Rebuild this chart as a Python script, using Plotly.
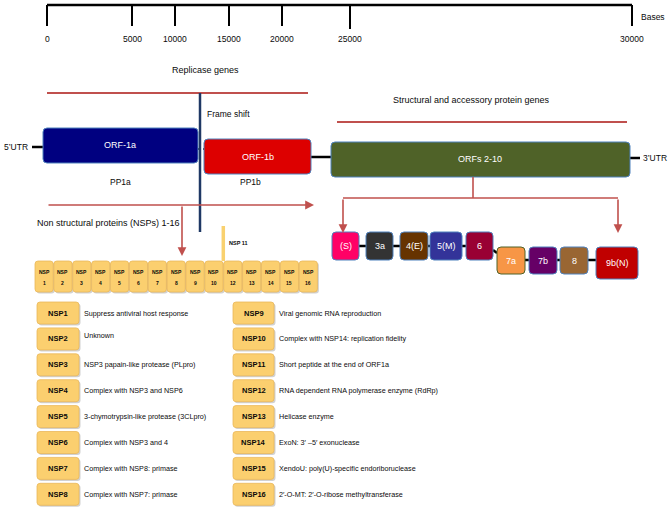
import plotly.graph_objects as go

# ---------------- data ----------------
axis_ticks = [0, 5000, 10000, 15000, 20000, 25000, 30000]
axis_title = "Bases"
section_titles = ["Replicase genes", "Structural and accessory protein genes"]
replicase_orfs = ["ORF-1a", "ORF-1b"]
polyproteins = ["PP1a", "PP1b"]
structural_orf = "ORFs 2-10"
utr_labels = ["5\u2019UTR", "3\u2019UTR"]
frameshift_label = "Frame shift"
nsp_group_label = "Non structural proteins (NSPs) 1-16"
nsp_row = ["1", "2", "3", "4", "5", "6", "7", "8", "9", "10", "12", "13", "14", "15", "16"]
nsp_short = "NSP 11"
structural_genes = ["(S)", "3a", "4(E)", "5(M)", "6", "7a", "7b", "8", "9b(N)"]
nsp_names = ["NSP1", "NSP2", "NSP3", "NSP4", "NSP5", "NSP6", "NSP7", "NSP8",
             "NSP9", "NSP10", "NSP11", "NSP12", "NSP13", "NSP14", "NSP15", "NSP16"]
nsp_functions = [
    "Suppress antiviral host response",
    "Unknown",
    "NSP3 papain-like protease (PLpro)",
    "Complex with NSP3 and NSP6",
    "3-chymotrypsin-like protease (3CLpro)",
    "Complex with NSP3 and 4",
    "Complex with NSP8: primase",
    "Complex with NSP7: primase",
    "Viral genomic RNA reproduction",
    "Complex with NSP14: replication fidelity",
    "Short peptide at the end of ORF1a",
    "RNA dependent RNA polymerase enzyme (RdRp)",
    "Helicase enzyme",
    "ExoN: 3\u2032 \u20135\u2032 exonuclease",
    "XendoU: poly(U)-specific endoriboruclease",
    "2\u2032-O-MT: 2\u2032-O-ribose methyltransferase",
]

# ---------------- layout / style ----------------
W, H = 671, 511
FONT = "Liberation Sans, Arial, sans-serif"
TXT = "#0a0a0a"
RED_LINE = "#c0504d"
tick_px = [47, 132, 175, 229, 282, 350, 632]   # (figure is not to scale)
tick_len = [21, 21, 21, 21, 21, 24, 21]
AXIS_Y = 5

struct_colors = ["#ff0066", "#333333", "#663300", "#333399", "#990033",
                 "#f79646", "#660066", "#996633", "#c00000"]
struct_x0 = [332, 366, 400, 430, 466, 497, 529, 560, 596]
struct_w = [27, 27, 28, 32, 27, 28, 28, 28, 42]
struct_row = [0, 0, 0, 0, 0, 1, 1, 1, 1]
struct_rows_y = [(232, 260), (247, 274)]

shapes = []
ann = []


def rrect(x0, y0, x1, y1, r=4):
    return (f"M{x0+r},{y0} L{x1-r},{y0} Q{x1},{y0} {x1},{y0+r} L{x1},{y1-r} "
            f"Q{x1},{y1} {x1-r},{y1} L{x0+r},{y1} Q{x0},{y1} {x0},{y1-r} "
            f"L{x0},{y0+r} Q{x0},{y0} {x0+r},{y0} Z")


def box(x0, y0, x1, y1, fill, line="#4f81bd", lw=1, r=4, shadow=False):
    if shadow:
        shapes.append(dict(type="path", path=rrect(x0 + 1.5, y0 + 1.5, x1 + 1.5, y1 + 1.5, r),
                           fillcolor="rgba(0,0,0,0.18)", line=dict(width=0), layer="below"))
    shapes.append(dict(type="path", path=rrect(x0, y0, x1, y1, r), fillcolor=fill,
                       line=dict(color=line, width=lw)))


def line(x0, y0, x1, y1, color="black", width=2.5, dash=None):
    d = dict(color=color, width=width)
    if dash:
        d["dash"] = dash
    shapes.append(dict(type="line", x0=x0, y0=y0, x1=x1, y1=y1, line=d))


def text(x, y, s, size=9, color=TXT, anchor="center", bold=False):
    if bold:
        s = f"<b>{s}</b>"
    ann.append(dict(x=x, y=y, text=s, showarrow=False, xanchor=anchor, yanchor="middle",
                    font=dict(family=FONT, size=size, color=color)))


def arrow(x0, y0, x1, y1, color=RED_LINE):
    ann.append(dict(x=x1, y=y1, ax=x0, ay=y0, xref="x", yref="y", axref="x", ayref="y",
                    text="", showarrow=True, arrowhead=2, arrowsize=1.1, arrowwidth=1.6,
                    arrowcolor=color))


# ---- top base-pair axis ----
line(tick_px[0], AXIS_Y, tick_px[-1], AXIS_Y, width=2.5)
for v, px, tl in zip(axis_ticks, tick_px, tick_len):
    line(px, AXIS_Y, px, AXIS_Y + tl, width=2)
    text(px, 39, str(v), size=8.5)
text(639, 17, axis_title, size=8.5, anchor="left")

# ---- section titles and red bars ----
text(205, 70, section_titles[0], size=9)
line(47, 93, 308, 93, color=RED_LINE, width=2)
text(471, 100, section_titles[1], size=9)
line(337, 122, 627, 122, color=RED_LINE, width=2)

# ---- genome ----
line(32, 147, 43, 147, width=2.5)
text(30, 147, utr_labels[0], size=8.5, anchor="right")
line(197, 149, 205, 149, width=1.5, dash="dot")
line(311, 157, 331, 157, width=2.5)
line(630, 158, 640, 158, width=2.5)
text(641, 158, utr_labels[1], size=8.5, anchor="left")

box(43, 128, 198, 163, "#000080", line="#4f81bd")
text(120, 145, replicase_orfs[0], size=9, color="white")
box(204, 139, 311, 174, "#dd0000", line="#4f81bd")
text(258, 157, replicase_orfs[1], size=9, color="white")
box(331, 142, 630, 177, "#4f6228", line="#4f81bd")
text(480, 159, structural_orf, size=9, color="white")

# frame shift marker
line(200, 93, 200, 232, color="#1f3864", width=2.5)
text(205, 114, frameshift_label, size=8.5, anchor="left")

# polyproteins
text(120, 182, polyproteins[0], size=8.5)
text(250, 182, polyproteins[1], size=8.5)

# ---- NSP cleavage arrow ----
arrow(47, 205, 314, 205)
arrow(182, 205, 182, 256)
text(35, 223, nsp_group_label, size=9, anchor="left")

# NSP row
ROW_X0, PITCH, BW = 35, 18.87, 18.2
ROW_Y0, ROW_Y1 = 261, 292
nsp11_x = ROW_X0 + 10 * PITCH - 0.4
line(nsp11_x, 226, nsp11_x, ROW_Y0, color="#f9d16f", width=3.5)
text(nsp11_x + 4, 243, nsp_short, size=5.5, anchor="left", bold=True)
for i, lab in enumerate(nsp_row):
    x0 = ROW_X0 + i * PITCH
    box(x0, ROW_Y0, x0 + BW, ROW_Y1, "#fbcf6f", line="#eab85a", lw=0.8, r=3, shadow=True)
    text(x0 + BW / 2, 272, "NSP", size=5, bold=True)
    text(x0 + BW / 2, 283, lab, size=5, bold=True)

# ---- structural branch arrows ----
line(473, 177, 473, 198, color=RED_LINE, width=1.6)
line(343, 198, 618, 198, color=RED_LINE, width=1.6)
arrow(343, 198, 343, 233)
arrow(618, 198, 618, 233)

# structural gene boxes with connecting line
line(359, 246, 466, 246, width=2.5)
line(493, 250, 497, 253, width=2.5)
line(525, 260, 596, 260, width=2.5)
for g, c, x0, w, r in zip(structural_genes, struct_colors, struct_x0, struct_w, struct_row):
    y0, y1 = struct_rows_y[r]
    if g == "9b(N)":
        y1 = y1 + 5
    bl = "#4f6228" if g == "7a" else "#4f81bd"
    box(x0, y0, x0 + w, y1, c, line=bl, lw=1)
    text(x0 + w / 2, (y0 + y1) / 2, g, size=9, color="white")

# ---- NSP function table ----
COL_X = [(37, 79, 82), (233, 274, 277)]
ROW0, ROW_PITCH, BH = 313, 25.9, 22
for k, (name, func) in enumerate(zip(nsp_names, nsp_functions)):
    col, row = divmod(k, 8)
    bx0, bx1, tx = COL_X[col]
    yc = ROW0 + row * ROW_PITCH
    box(bx0, yc - BH / 2, bx1, yc + BH / 2, "#fbcf6f", line="#eab85a", lw=0.8, r=3, shadow=True)
    text((bx0 + bx1) / 2, yc, name, size=7.5, bold=True)
    ty = yc - 3 if func == "Unknown" else yc
    text(tx, ty, func, size=7.2, anchor="left")

fig = go.Figure()
fig.add_trace(go.Scatter(x=[0], y=[0], mode="markers", marker=dict(opacity=0),
                         hoverinfo="skip", showlegend=False))
fig.update_layout(
    width=W, height=H, margin=dict(l=0, r=0, t=0, b=0),
    paper_bgcolor="white", plot_bgcolor="white",
    xaxis=dict(range=[0, W], visible=False, fixedrange=True),
    yaxis=dict(range=[H, 0], visible=False, fixedrange=True),
    shapes=shapes, annotations=ann, showlegend=False,
)
fig.write_html("out.html", config={"displayModeBar": False},
               post_script="document.body.style.margin='0';document.body.style.overflow='hidden';")
